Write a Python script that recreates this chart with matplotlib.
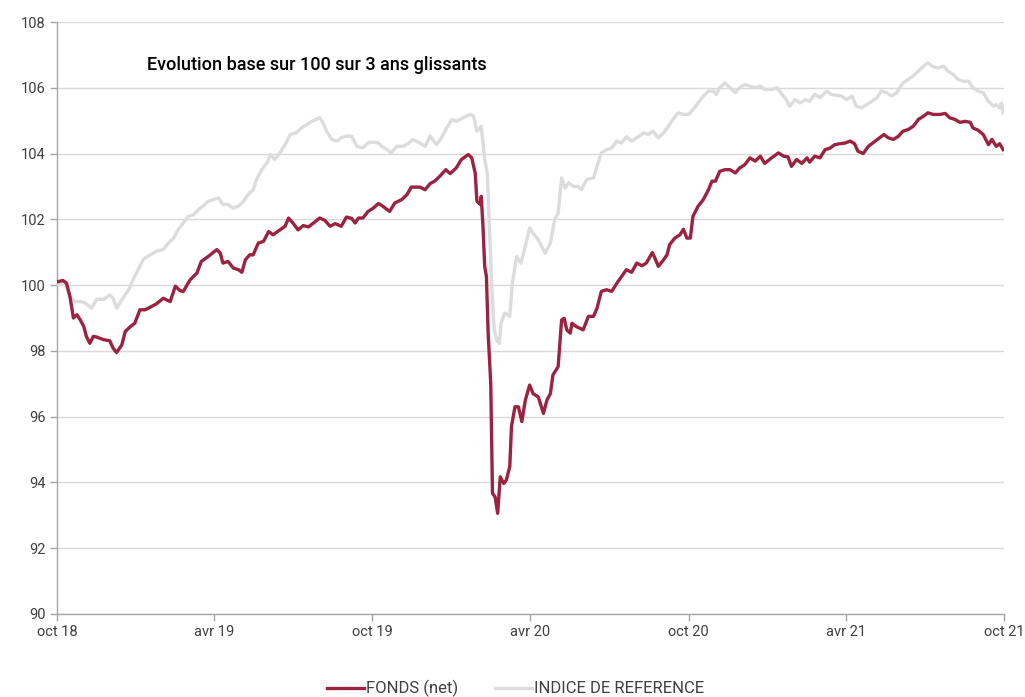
import pandas as pd
import matplotlib
matplotlib.use("Agg")
import matplotlib.pyplot as plt

plt.rcParams["font.family"] = ["Roboto", "DejaVu Sans"]

# values (base 100)
fonds_dates = [
    "2018-10-01", "2018-10-08", "2018-10-12", "2018-10-16", "2018-10-20", "2018-10-24", "2018-10-28",
    "2018-11-01", "2018-11-04", "2018-11-08", "2018-11-12", "2018-11-16", "2018-11-24", "2018-12-01",
    "2018-12-05", "2018-12-09", "2018-12-15", "2018-12-19", "2018-12-25", "2018-12-30", "2019-01-05",
    "2019-01-11", "2019-01-17", "2019-01-24", "2019-02-01", "2019-02-09", "2019-02-15", "2019-02-20",
    "2019-02-24", "2019-03-04", "2019-03-12", "2019-03-17", "2019-03-25", "2019-04-04", "2019-04-08",
    "2019-04-11", "2019-04-17", "2019-04-23", "2019-04-29", "2019-05-03", "2019-05-07", "2019-05-12",
    "2019-05-16", "2019-05-22", "2019-05-28", "2019-06-03", "2019-06-08", "2019-06-16", "2019-06-22",
    "2019-06-26", "2019-07-01", "2019-07-07", "2019-07-13", "2019-07-19", "2019-07-25", "2019-08-01",
    "2019-08-07", "2019-08-13", "2019-08-19", "2019-08-26", "2019-09-01", "2019-09-07", "2019-09-11",
    "2019-09-15", "2019-09-20", "2019-09-26", "2019-10-02", "2019-10-08", "2019-10-12", "2019-10-21",
    "2019-10-27", "2019-11-04", "2019-11-10", "2019-11-15", "2019-11-25", "2019-12-01", "2019-12-07",
    "2019-12-12", "2019-12-18", "2019-12-25", "2019-12-30", "2020-01-06", "2020-01-12", "2020-01-20",
    "2020-01-24", "2020-01-28", "2020-01-30", "2020-02-03", "2020-02-04", "2020-02-06", "2020-02-08",
    "2020-02-10", "2020-02-12", "2020-02-15", "2020-02-17", "2020-02-20", "2020-02-23", "2020-02-26",
    "2020-03-01", "2020-03-04", "2020-03-08", "2020-03-10", "2020-03-14", "2020-03-18", "2020-03-22",
    "2020-03-26", "2020-03-31", "2020-04-04", "2020-04-10", "2020-04-16", "2020-04-20", "2020-04-24",
    "2020-04-27", "2020-05-03", "2020-05-07", "2020-05-10", "2020-05-13", "2020-05-17", "2020-05-19",
    "2020-05-24", "2020-06-01", "2020-06-07", "2020-06-13", "2020-06-17", "2020-06-22", "2020-06-28",
    "2020-07-04", "2020-07-10", "2020-07-14", "2020-07-21", "2020-07-27", "2020-08-02", "2020-08-08",
    "2020-08-13", "2020-08-20", "2020-08-23", "2020-08-27", "2020-09-02", "2020-09-06", "2020-09-09",
    "2020-09-15", "2020-09-21", "2020-09-25", "2020-09-29", "2020-10-03", "2020-10-06", "2020-10-12",
    "2020-10-18", "2020-10-24", "2020-10-28", "2020-11-01", "2020-11-06", "2020-11-12", "2020-11-18",
    "2020-11-24", "2020-11-29", "2020-12-05", "2020-12-11", "2020-12-17", "2020-12-23", "2020-12-28",
    "2021-01-05", "2021-01-13", "2021-01-19", "2021-01-24", "2021-01-28", "2021-02-03", "2021-02-09",
    "2021-02-15", "2021-02-18", "2021-02-24", "2021-03-02", "2021-03-08", "2021-03-14", "2021-03-19",
    "2021-03-25", "2021-03-31", "2021-04-06", "2021-04-11", "2021-04-15", "2021-04-21", "2021-04-27",
    "2021-05-05", "2021-05-10", "2021-05-15", "2021-05-20", "2021-05-26", "2021-06-01", "2021-06-06",
    "2021-06-12", "2021-06-18", "2021-06-24", "2021-06-30", "2021-07-05", "2021-07-11", "2021-07-19",
    "2021-07-25", "2021-07-30", "2021-08-05", "2021-08-11", "2021-08-17", "2021-08-23", "2021-08-26",
    "2021-09-01", "2021-09-07", "2021-09-13", "2021-09-17", "2021-09-22", "2021-09-26", "2021-09-30",
]
fonds_values = [
    100.10, 100.14, 100.06, 99.65, 99.00, 99.10, 98.94,
    98.74, 98.44, 98.23, 98.44, 98.42, 98.34, 98.31,
    98.08, 97.95, 98.18, 98.59, 98.74, 98.84, 99.25,
    99.25, 99.33, 99.43, 99.60, 99.50, 99.97, 99.84,
    99.80, 100.16, 100.37, 100.72, 100.87, 101.08, 100.97,
    100.67, 100.72, 100.52, 100.47, 100.39, 100.77, 100.92,
    100.92, 101.28, 101.33, 101.63, 101.53, 101.68, 101.79,
    102.04, 101.89, 101.68, 101.81, 101.77, 101.89, 102.04,
    101.97, 101.79, 101.87, 101.79, 102.07, 102.03, 101.89,
    102.04, 102.04, 102.24, 102.34, 102.48, 102.42, 102.24,
    102.50, 102.60, 102.75, 102.98, 102.98, 102.90, 103.09,
    103.16, 103.31, 103.51, 103.39, 103.56, 103.82, 103.97,
    103.87, 103.41, 102.55, 102.45, 102.70, 101.79, 100.57,
    100.26, 98.54, 97.00, 93.67, 93.56, 93.06, 94.17,
    93.97, 94.07, 94.48, 95.70, 96.30, 96.30, 95.85,
    96.50, 96.96, 96.70, 96.60, 96.10, 96.50, 96.70,
    97.27, 97.52, 98.94, 98.99, 98.64, 98.54, 98.84,
    98.74, 98.64, 99.05, 99.05, 99.30, 99.81, 99.86,
    99.81, 100.06, 100.21, 100.47, 100.39, 100.67, 100.59,
    100.67, 100.99, 100.82, 100.57, 100.77, 100.92, 101.23,
    101.43, 101.53, 101.70, 101.43, 101.43, 102.09, 102.40,
    102.60, 102.90, 103.16, 103.16, 103.46, 103.51, 103.51,
    103.41, 103.56, 103.66, 103.87, 103.77, 103.92, 103.70,
    103.87, 104.02, 103.92, 103.90, 103.61, 103.82, 103.70,
    103.87, 103.74, 103.92, 103.87, 104.12, 104.17, 104.27,
    104.30, 104.32, 104.38, 104.30, 104.07, 104.00, 104.22,
    104.38, 104.48, 104.58, 104.48, 104.43, 104.53, 104.68,
    104.73, 104.83, 105.04, 105.14, 105.24, 105.19, 105.19,
    105.22, 105.09, 105.04, 104.95, 104.98, 104.95, 104.78,
    104.71, 104.58, 104.27, 104.43, 104.22, 104.30, 104.12,
]

indice_dates = [
    "2018-10-01", "2018-10-10", "2018-10-16", "2018-10-22", "2018-10-28", "2018-11-02", "2018-11-10",
    "2018-11-16", "2018-11-24", "2018-12-01", "2018-12-05", "2018-12-09", "2018-12-15", "2018-12-23",
    "2018-12-28", "2019-01-03", "2019-01-09", "2019-01-17", "2019-01-24", "2019-02-01", "2019-02-07",
    "2019-02-13", "2019-02-18", "2019-02-24", "2019-03-02", "2019-03-08", "2019-03-14", "2019-03-19",
    "2019-03-25", "2019-03-31", "2019-04-06", "2019-04-11", "2019-04-17", "2019-04-23", "2019-04-29",
    "2019-05-05", "2019-05-10", "2019-05-16", "2019-05-20", "2019-05-26", "2019-06-01", "2019-06-05",
    "2019-06-10", "2019-06-16", "2019-06-22", "2019-06-28", "2019-07-05", "2019-07-11", "2019-07-17",
    "2019-07-23", "2019-07-28", "2019-08-01", "2019-08-05", "2019-08-09", "2019-08-15", "2019-08-21",
    "2019-08-26", "2019-09-01", "2019-09-07", "2019-09-13", "2019-09-20", "2019-09-26", "2019-10-02",
    "2019-10-08", "2019-10-12", "2019-10-17", "2019-10-23", "2019-10-29", "2019-11-06", "2019-11-12",
    "2019-11-17", "2019-11-25", "2019-12-01", "2019-12-07", "2019-12-14", "2019-12-20", "2019-12-26",
    "2020-01-01", "2020-01-06", "2020-01-14", "2020-01-22", "2020-01-26", "2020-01-30", "2020-02-04",
    "2020-02-08", "2020-02-11", "2020-02-13", "2020-02-16", "2020-02-19", "2020-02-22", "2020-02-25",
    "2020-02-27", "2020-03-02", "2020-03-08", "2020-03-11", "2020-03-16", "2020-03-21", "2020-03-26",
    "2020-03-31", "2020-04-04", "2020-04-10", "2020-04-18", "2020-04-24", "2020-04-29", "2020-05-03",
    "2020-05-07", "2020-05-11", "2020-05-15", "2020-05-21", "2020-05-26", "2020-05-30", "2020-06-05",
    "2020-06-13", "2020-06-17", "2020-06-22", "2020-06-28", "2020-07-04", "2020-07-10", "2020-07-15",
    "2020-07-21", "2020-07-27", "2020-08-02", "2020-08-10", "2020-08-15", "2020-08-21", "2020-08-27",
    "2020-09-02", "2020-09-07", "2020-09-13", "2020-09-19", "2020-09-25", "2020-10-01", "2020-10-06",
    "2020-10-12", "2020-10-18", "2020-10-24", "2020-10-30", "2020-11-02", "2020-11-06", "2020-11-12",
    "2020-11-18", "2020-11-24", "2020-11-29", "2020-12-05", "2020-12-11", "2020-12-17", "2020-12-23",
    "2020-12-28", "2021-01-05", "2021-01-11", "2021-01-17", "2021-01-22", "2021-01-26", "2021-02-01",
    "2021-02-07", "2021-02-13", "2021-02-18", "2021-02-24", "2021-03-02", "2021-03-10", "2021-03-15",
    "2021-03-21", "2021-03-27", "2021-04-02", "2021-04-08", "2021-04-13", "2021-04-19", "2021-04-25",
    "2021-05-01", "2021-05-07", "2021-05-12", "2021-05-18", "2021-05-24", "2021-05-30", "2021-06-06",
    "2021-06-12", "2021-06-18", "2021-06-24", "2021-06-30", "2021-07-05", "2021-07-11", "2021-07-17",
    "2021-07-23", "2021-07-28", "2021-08-03", "2021-08-09", "2021-08-15", "2021-08-21", "2021-08-26",
    "2021-09-01", "2021-09-07", "2021-09-13", "2021-09-19", "2021-09-22", "2021-09-26", "2021-09-28",
    "2021-09-30",
]
indice_values = [
    100.01, 100.06, 99.65, 99.50, 99.50, 99.47, 99.30,
    99.57, 99.57, 99.70, 99.60, 99.30, 99.55, 99.86,
    100.16, 100.47, 100.79, 100.92, 101.03, 101.08, 101.28,
    101.43, 101.68, 101.89, 102.09, 102.14, 102.30, 102.40,
    102.55, 102.60, 102.65, 102.45, 102.45, 102.34, 102.40,
    102.55, 102.75, 102.90, 103.21, 103.51, 103.72, 103.97,
    103.82, 104.02, 104.27, 104.58, 104.63, 104.78, 104.88,
    104.98, 105.04, 105.09, 104.93, 104.68, 104.43, 104.38,
    104.48, 104.53, 104.53, 104.22, 104.17, 104.33, 104.35,
    104.32, 104.22, 104.14, 104.02, 104.22, 104.22, 104.32,
    104.43, 104.32, 104.22, 104.53, 104.27, 104.48, 104.78,
    105.04, 104.98, 105.09, 105.19, 105.14, 104.68, 104.83,
    103.82, 103.41, 102.09, 100.07, 98.64, 98.33, 98.23,
    98.84, 99.15, 99.05, 100.06, 100.87, 100.67, 101.18,
    101.74, 101.58, 101.38, 100.97, 101.28, 101.99, 102.19,
    103.26, 102.95, 103.11, 103.00, 103.00, 102.90, 103.21,
    103.26, 103.61, 104.02, 104.12, 104.17, 104.38, 104.32,
    104.51, 104.38, 104.48, 104.63, 104.58, 104.68, 104.48,
    104.63, 104.81, 105.04, 105.24, 105.19, 105.19, 105.34,
    105.54, 105.75, 105.90, 105.90, 105.80, 106.00, 106.15,
    106.00, 105.85, 106.00, 106.10, 106.05, 106.00, 106.05,
    105.95, 105.95, 106.00, 105.80, 105.64, 105.44, 105.64,
    105.54, 105.64, 105.59, 105.80, 105.70, 105.90, 105.80,
    105.77, 105.75, 105.64, 105.75, 105.44, 105.39, 105.49,
    105.59, 105.70, 105.90, 105.85, 105.75, 105.85, 106.15,
    106.25, 106.36, 106.51, 106.66, 106.76, 106.64, 106.60,
    106.66, 106.51, 106.41, 106.25, 106.20, 106.20, 106.00,
    105.90, 105.85, 105.59, 105.44, 105.49, 105.39, 105.54,
    105.24,
]

tick_dates = ["2018-10-01", "2019-04-01", "2019-10-01", "2020-04-01",
              "2020-10-01", "2021-04-01", "2021-10-01"]
tick_labels = ["oct 18", "avr 19", "oct 19", "avr 20", "oct 20", "avr 21", "oct 21"]
y_ticks = [90, 92, 94, 96, 98, 100, 102, 104, 106, 108]

fonds = pd.Series(fonds_values, index=pd.to_datetime(fonds_dates))
indice = pd.Series(indice_values, index=pd.to_datetime(indice_dates))

fig = plt.figure(figsize=(10.25, 6.97), dpi=100)
ax = fig.add_axes([0.0556, 0.1191, 0.9239, 0.8493])

ax.plot(indice.index, indice.values, color="#dcdcdc", lw=2.4, label="INDICE DE REFERENCE", zorder=3)
ax.plot(fonds.index, fonds.values, color="#9b2340", lw=2.4, label="FONDS (net)", zorder=4)

ax.set_xlim(pd.Timestamp("2018-10-01"), pd.Timestamp("2021-10-01"))
ax.set_ylim(90, 108)
ax.set_yticks(y_ticks)
ax.set_xticks(pd.to_datetime(tick_dates))
ax.set_xticklabels(tick_labels)

ax.grid(axis="y", color="#d9d9d9", lw=1)
ax.set_axisbelow(True)
for side in ["top", "right"]:
    ax.spines[side].set_visible(False)
for side in ["left", "bottom"]:
    ax.spines[side].set_color("#a6a6a6")
    ax.spines[side].set_linewidth(1)
ax.tick_params(axis="both", colors="#a6a6a6", length=5, width=1, labelsize=10.5,
               labelcolor="#404040", pad=3)

ax.text(0.095, 0.928, "Evolution base sur 100 sur 3 ans glissants", transform=ax.transAxes,
        fontsize=13, color="black", ha="left", va="center", fontweight="medium")

handles, labels = ax.get_legend_handles_labels()
fig.legend(handles[::-1], labels[::-1], loc="center", bbox_to_anchor=(0.503, 0.012), ncol=2,
           frameon=False, fontsize=12, handlelength=2.2, handletextpad=0.15, columnspacing=2.2,
           labelcolor="#404040")

fig.savefig("out.png", dpi=100)
